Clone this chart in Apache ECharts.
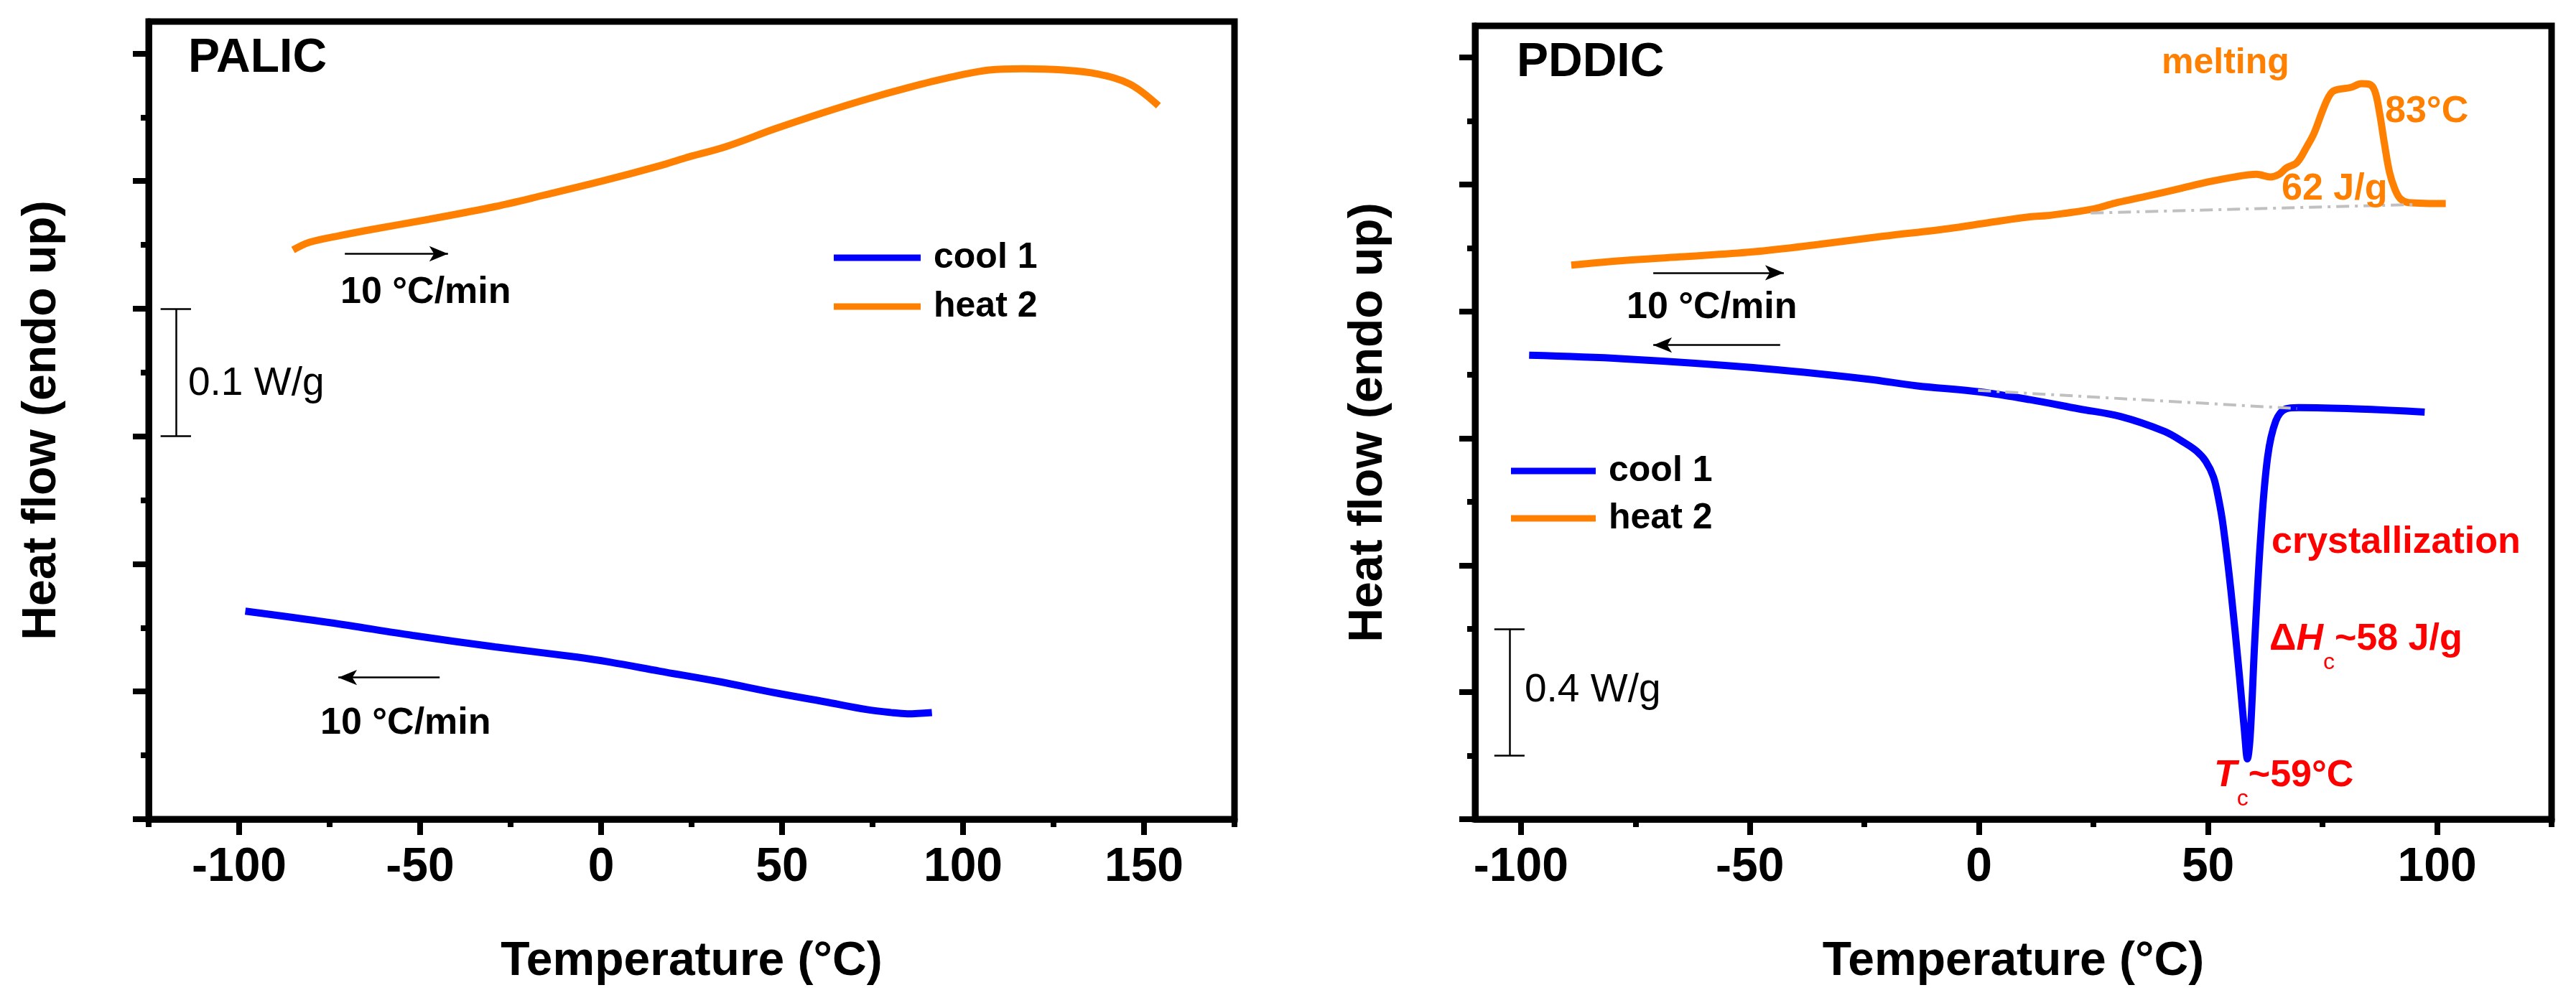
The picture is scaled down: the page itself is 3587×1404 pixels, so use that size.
<!DOCTYPE html>
<html>
<head>
<meta charset="utf-8">
<title>DSC PALIC / PDDIC</title>
<script src="https://cdn.jsdelivr.net/npm/echarts@6/dist/echarts.min.js"></script>
<style>
  html, body { margin: 0; padding: 0; background: #fff; }
  #chart { width: 3587px; height: 1404px; }
</style>
</head>
<body>
<div id="chart"></div>
<script>
// temperature in degC, heat flow in W/g (vertical offset is arbitrary, as in the figure)
var palicCoolT  = [-98.3, -74.9, -52.1, -29.3, -6.6, 2.6, 16.2, 32.2, 48.1, 61.8, 73.2, 80.0, 84.6, 91.4];
var palicCoolHF = [0.163, 0.154, 0.144, 0.135, 0.127, 0.123, 0.116, 0.108, 0.099, 0.092, 0.086, 0.0836, 0.0826, 0.0836];

var palicHeatT  = [-85.1, -80.6, -72.6, -63.5, -47.6, -29.3, -15.7, 0.3, 16.2, 23.1, 34.5, 48.1, 61.8, 73.2, 84.6, 96.0, 107.3, 116.5, 127.8, 137.0, 146.1, 154.0];
var palicHeatHF = [0.446, 0.452, 0.457, 0.462, 0.470, 0.480, 0.489, 0.500, 0.512, 0.518, 0.527, 0.541, 0.554, 0.564, 0.573, 0.581, 0.587, 0.588, 0.587, 0.584, 0.576, 0.559];

var pddicCoolT  = [-98.2, -77.8, -49.3, -24.4, -13.8, 0.4, 11.1, 21.8, 30.9, 40.5, 44.9, 47.5, 49.5, 51.2, 52.3, 53.3, 55.0, 56.8, 58.0, 58.6, 59.2, 60.2, 61.5, 63.0, 64.8, 67.0, 69.8, 82.2, 97.3];
var pddicCoolHF = [1.462, 1.451, 1.423, 1.387, 1.366, 1.346, 1.322, 1.293, 1.269, 1.222, 1.186, 1.160, 1.128, 1.078, 1.010, 0.925, 0.72, 0.46, 0.27, 0.19, 0.26, 0.56, 0.89, 1.14, 1.255, 1.293, 1.297, 1.293, 1.283];

var pddicHeatT  = [-89.0, -77.8, -65.3, -49.3, -35.1, -20.9, -6.7, 2.2, 11.1, 14.9, 18.2, 25.3, 29.6, 36.0, 44.4, 50.0, 55.4, 60.6, 63.6, 65.5, 67.1, 69.4, 71.6, 73.1, 74.8, 76.1, 77.2, 78.5, 81.2, 83.5, 85.2, 86.4, 87.4, 88.5, 89.6, 90.8, 92.0, 93.8, 101.9];
var pddicHeatHF = [1.746, 1.760, 1.772, 1.788, 1.811, 1.837, 1.861, 1.880, 1.898, 1.902, 1.908, 1.924, 1.941, 1.961, 1.989, 2.008, 2.023, 2.032, 2.024, 2.032, 2.052, 2.069, 2.120, 2.160, 2.225, 2.270, 2.293, 2.300, 2.306, 2.318, 2.316, 2.295, 2.230, 2.130, 2.040, 1.985, 1.955, 1.943, 1.940];

// dash-dot integration baselines (PDDIC)
var meltBaseT  = [24.4, 94.9];
var meltBaseHF = [1.910, 1.937];
var crystBaseT  = [-0.2, 69.4];
var crystBaseHF = [1.351, 1.294];

// axis ticks
var tempMajorL = [-100, -50, 0, 50, 100, 150];
var tempMinorL = [-125, -75, -25, 25, 75, 125, 175];
var tempMajorR = [-100, -50, 0, 50, 100];
var tempMinorR = [-75, -25, 25, 75, 125];
var hfMajorL = [0, 0.1, 0.2, 0.3, 0.4, 0.5, 0.6];
var hfMinorL = [0.05, 0.15, 0.25, 0.35, 0.45, 0.55];
var hfMajorR = [0, 0.4, 0.8, 1.2, 1.6, 2.0, 2.4];
var hfMinorR = [0.2, 0.6, 1.0, 1.4, 1.8, 2.2];

var FONT = 'Liberation Sans, Arial, sans-serif';
var BLUE = '#0000FF', ORANGE = '#FF8000', RED = '#FF0000';

function zip(a, b) {
    return a.map(function (v, i) { return [v, b[i]]; });
}

function tempAxes(grid, min, max, major, minor) {
    var tick = { color: '#000', width: 8 };
    return [{
        type: 'value', gridIndex: grid, min: min, max: max, position: 'bottom',
        name: 'Temperature (°C)', nameLocation: 'middle', nameGap: 166,
        nameTextStyle: { fontFamily: FONT, fontSize: 66, fontWeight: 'bold', color: '#000' },
        axisLine: { onZero: false, lineStyle: { color: '#000', width: 9 } },
        axisTick: { customValues: major, length: 22, lineStyle: tick },
        axisLabel: { customValues: major, margin: 35, fontFamily: FONT, fontSize: 66, fontWeight: 'bold', color: '#000' },
        splitLine: { show: false }
    }, {
        type: 'value', gridIndex: grid, min: min, max: max, position: 'bottom',
        axisLine: { show: false, onZero: false },
        axisTick: { customValues: minor, length: 11, lineStyle: tick },
        axisLabel: { show: false },
        splitLine: { show: false }
    }];
}

function hfAxes(grid, max, major, minor) {
    var tick = { color: '#000', width: 8 };
    return [{
        type: 'value', gridIndex: grid, min: 0, max: max, position: 'left',
        name: 'Heat flow (endo up)', nameLocation: 'middle', nameGap: 115, nameRotate: 90,
        nameTextStyle: { fontFamily: FONT, fontSize: 66, fontWeight: 'bold', color: '#000' },
        axisLine: { onZero: false, lineStyle: { color: '#000', width: 9 } },
        axisTick: { customValues: major, length: 22, lineStyle: tick },
        axisLabel: { show: false },
        splitLine: { show: false }
    }, {
        type: 'value', gridIndex: grid, min: 0, max: max, position: 'left',
        axisLine: { show: false, onZero: false },
        axisTick: { customValues: minor, length: 11, lineStyle: tick },
        axisLabel: { show: false },
        splitLine: { show: false }
    }];
}

function curve(name, color, grid, t, hf) {
    return {
        name: name, type: 'line', xAxisIndex: grid * 2, yAxisIndex: grid * 2,
        data: zip(t, hf), showSymbol: false, smooth: 0.35,
        color: color, lineStyle: { color: color, width: 10 }, z: 3
    };
}

function baseline(grid, t, hf) {
    return {
        name: '', type: 'line', xAxisIndex: grid * 2, yAxisIndex: grid * 2,
        data: zip(t, hf), showSymbol: false, silent: true,
        lineStyle: { color: '#C0C0C0', width: 4, type: [18, 8, 4, 8] }, z: 4
    };
}

// arrows and W/g scale bars, in data coordinates
function arrow(from, to) {
    return [{ coord: from, symbol: 'none' }, { coord: to, symbol: 'arrow', symbolSize: [16, 26] }];
}
function bar(x, y0, y1, half) {
    return [
        [{ coord: [x, y0], symbol: 'none' }, { coord: [x, y1], symbol: 'none' }],
        [{ coord: [x - half, y0], symbol: 'none' }, { coord: [x + half, y0], symbol: 'none' }],
        [{ coord: [x - half, y1], symbol: 'none' }, { coord: [x + half, y1], symbol: 'none' }]
    ];
}
function marks(items) {
    return {
        silent: true, animation: false, symbol: ['none', 'none'],
        label: { show: false }, emphasis: { disabled: true },
        lineStyle: { color: '#000', width: 2.5, type: 'solid' },
        data: items
    };
}

var leftMarks = [arrow([-70.8, 0.443], [-42.3, 0.443]), arrow([-44.6, 0.111], [-72.6, 0.111])]
    .concat(bar(-117.5, 0.3, 0.4, 4.2));
var rightMarks = [arrow([-71.1, 1.722], [-42.6, 1.722]), arrow([-43.4, 1.494], [-71.1, 1.494])]
    .concat(bar(-102.5, 0.2, 0.6, 3.3));

var sLeftCool = curve('cool 1', BLUE, 0, palicCoolT, palicCoolHF);
var sLeftHeat = curve('heat 2', ORANGE, 0, palicHeatT, palicHeatHF);
sLeftHeat.markLine = marks(leftMarks);
var sRightCool = curve('cool 1', BLUE, 1, pddicCoolT, pddicCoolHF);
var sRightHeat = curve('heat 2', ORANGE, 1, pddicHeatT, pddicHeatHF);
sRightHeat.markLine = marks(rightMarks);

function txt(x, y, text, size, color, weight, rich) {
    var s = {
        text: text, fontFamily: FONT, fontSize: size, fontWeight: weight || 'bold',
        fill: color || '#000', verticalAlign: 'middle', align: 'left'
    };
    if (rich) s.rich = rich;
    return { type: 'text', x: x, y: y, z: 10, silent: true, style: s };
}

var redRich = {
    n: { fontFamily: FONT, fontSize: 52, fontWeight: 'bold', fill: RED, lineHeight: 96, verticalAlign: 'middle' },
    i: { fontFamily: FONT, fontSize: 52, fontWeight: 'bold', fontStyle: 'italic', fill: RED, lineHeight: 96, verticalAlign: 'middle' },
    s: { fontFamily: FONT, fontSize: 32, fontWeight: 'normal', fill: RED, lineHeight: 40, verticalAlign: 'bottom' }
};

var option = {
    backgroundColor: '#fff',
    animation: false,
    grid: [
        { left: 207, top: 30, width: 1512, height: 1111, show: true, borderColor: '#000', borderWidth: 9 },
        { left: 2054, top: 36, width: 1499, height: 1105, show: true, borderColor: '#000', borderWidth: 9 }
    ],
    xAxis: tempAxes(0, -125, 175, tempMajorL, tempMinorL).concat(tempAxes(1, -110, 125, tempMajorR, tempMinorR)),
    yAxis: hfAxes(0, 0.625, hfMajorL, hfMinorL).concat(hfAxes(1, 2.5, hfMajorR, hfMinorR)),
    legend: [{
        data: ['cool 1', 'heat 2'], orient: 'vertical', left: 1156, top: 329,
        icon: 'rect', itemWidth: 121, itemHeight: 9, itemGap: 18,
        textStyle: { fontFamily: FONT, fontSize: 50, fontWeight: 'bold', color: '#000', padding: [0, 0, 0, 13] }
    }, {
        data: ['cool 1', 'heat 2'], orient: 'vertical', left: 2099, top: 626,
        icon: 'rect', itemWidth: 118, itemHeight: 9, itemGap: 16,
        textStyle: { fontFamily: FONT, fontSize: 50, fontWeight: 'bold', color: '#000', padding: [0, 0, 0, 13] }
    }],
    graphic: [
        txt(262, 82, 'PALIC', 66),
        txt(474, 408, '10 °C/min', 52),
        txt(446, 1008, '10 °C/min', 52),
        txt(262, 535, '0.1 W/g', 55, '#000', 'normal'),
        txt(2112, 88, 'PDDIC', 66),
        txt(2265, 429, '10 °C/min', 52),
        txt(2123, 962, '0.4 W/g', 55, '#000', 'normal'),
        txt(3010, 88, 'melting', 50, ORANGE),
        txt(3321, 156, '83°C', 52, ORANGE),
        txt(3177, 264, '62 J/g', 52, ORANGE),
        txt(3163, 756, 'crystallization', 52, RED),
        txt(3160, 891, '{n|Δ}{i|H}{s|c}{n|~58 J/g}', 52, RED, 'bold', redRich),
        txt(3083, 1081, '{i|T}{s|c}{n|~59°C}', 52, RED, 'bold', redRich)
    ],
    series: [
        baseline(1, meltBaseT, meltBaseHF),
        baseline(1, crystBaseT, crystBaseHF),
        sLeftCool, sLeftHeat, sRightCool, sRightHeat
    ]
};

var chart = echarts.init(document.getElementById('chart'));
chart.setOption(option);
</script>
</body>
</html>
